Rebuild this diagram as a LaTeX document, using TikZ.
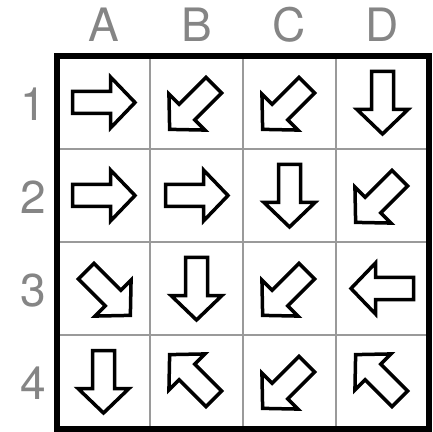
\documentclass[tikz,border=0pt]{standalone}
\usepackage{fontspec}
\setmainfont{TeX Gyre Heros}
\definecolor{labelgray}{HTML}{858585}
\definecolor{gridgray}{HTML}{9A9A9A}
\tikzset{
  blockarrow/.style={draw=black, fill=white, line width=3.5pt, miter limit=10, line join=miter},
  gridline/.style={draw=gridgray, line width=1.8pt},
  frameline/.style={draw=black, line width=6pt, line join=miter},
  axislabel/.style={text=labelgray, font=\fontsize{46}{46}\selectfont, inner sep=0pt, anchor=center}
}
\newcommand\straightarrow[3]{%
  \draw[blockarrow, shift={(#1,#2)}, rotate=#3]
    (-31,11) -- (7,11) -- (7,25.5) -- (31.5,0) -- (7,-25.5) -- (7,-11) -- (-31,-11) -- cycle;}
\newcommand\diagarrow[3]{%
  \draw[blockarrow, shift={(#1,#2)}, rotate=#3, shift={(6.5,0)}]
    (-31,11) -- (7,11) -- (7,25.5) -- (31.5,0) -- (7,-25.5) -- (7,-11) -- (-31,-11) -- cycle;}
\begin{document}
\begin{tikzpicture}[x=1pt,y=1pt]
\useasboundingbox (0,0) rectangle (433,431);
\fill[white] (0,0) rectangle (433,431);
% thin grid lines
\foreach \x in {150,243,336} \draw[gridline] (\x,2) -- (\x,375);
\foreach \y in {96,189,282} \draw[gridline] (57,\y) -- (429,\y);
% column labels
\node[axislabel] (colA) at (103.5,406) {A};
\node[axislabel] (colB) at (196.5,406) {B};
\node[axislabel] (colC) at (289.5,406) {C};
\node[axislabel] (colD) at (382.5,406) {D};
% row labels
\node[axislabel] (row1) at (33,326.5) {1};
\node[axislabel] (row2) at (33,233.5) {2};
\node[axislabel] (row3) at (33,140.5) {3};
\node[axislabel] (row4) at (33,47.5) {4};
% row 1
\straightarrow{103.5}{328.5}{0}
\diagarrow{196.5}{328.5}{225}
\diagarrow{289.5}{328.5}{225}
\straightarrow{382.5}{328.5}{270}
% row 2
\straightarrow{103.5}{235.5}{0}
\straightarrow{196.5}{235.5}{0}
\straightarrow{289.5}{235.5}{270}
\diagarrow{382.5}{235.5}{225}
% row 3
\diagarrow{103.5}{142.5}{315}
\straightarrow{196.5}{142.5}{270}
\diagarrow{289.5}{142.5}{225}
\straightarrow{382.5}{142.5}{180}
% row 4
\straightarrow{103.5}{49.5}{270}
\diagarrow{196.5}{49.5}{135}
\diagarrow{289.5}{49.5}{225}
\diagarrow{382.5}{49.5}{135}
% frame
\draw[frameline] (57,2) rectangle (429,375);
\end{tikzpicture}
\end{document}
